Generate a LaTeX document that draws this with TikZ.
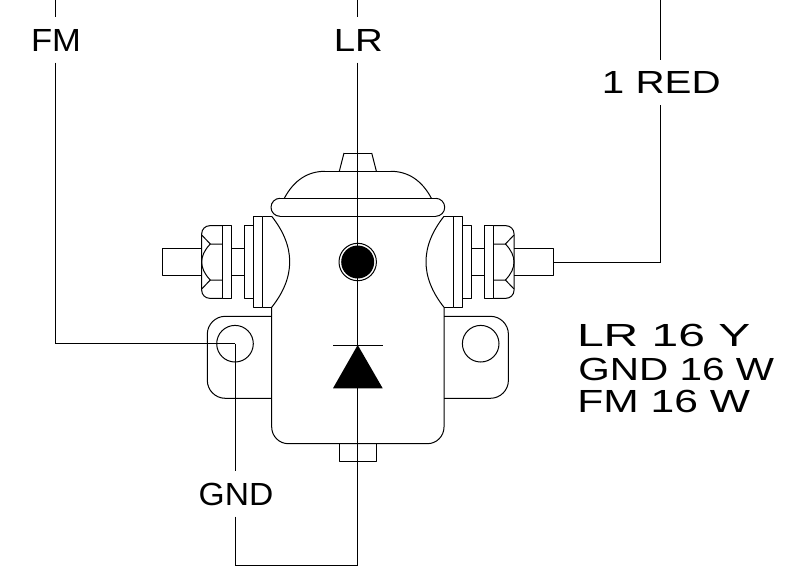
\documentclass[tikz,border=0pt]{standalone}
\usepackage{fontspec}
\setmainfont{Liberation Sans}
\tikzset{
	part/.style={line width=0.75pt, line join=round},
	wire/.style={line width=0.75pt, line join=miter},
	tag/.style={font=\fontsize{24}{28}\selectfont, inner sep=0pt, transform shape},
	walltag/.style={tag, minimum height=33.5pt}
}
\begin{document}
\begin{tikzpicture}[x=0.75pt,y=-0.75pt]
	\useasboundingbox (0,0) rectangle (785,571);
	%Ends and corners of the wires
	\coordinate (fmTop) at (55,0);
	\coordinate (lrTop) at (357.7,0);
	\coordinate (redTop) at (660.5,0);
	\coordinate (hole) at (235,343.7);
	\coordinate (studEnd) at (553,262);
	\coordinate (gndCorner) at (235,565);
	\coordinate (lrCorner) at (357.7,565);
	%Left and right hardware, the same drawing mirrored
	\foreach \flip/\shift in {1/0,-1/715.7} {
		\begin{scope}[xshift=\shift*0.75pt,xscale=\flip]
			%Stud and shaft
			\draw [part] (201.7,248.3) -- (162,248.3) -- (162,275.7) -- (201.7,275.7);
			\draw [part] (231,248.3) -- (244.3,248.3);
			\draw [part] (231,275.7) -- (244.3,275.7);
			%Nut
			\draw [part,rounded corners=6pt] (222,225.7) -- (201.7,225.7) -- (201.7,298.3) -- (222,298.3);
			\draw [part] (222,225.7) rectangle (231,298.3);
			\draw [part] (201.7,235) -- (210.3,244) -- (222,244);
			\draw [part] (201.7,289) -- (210.3,280) -- (222,280);
			\draw [part] (210.3,244) .. controls (204.5,250) and (201.7,256) .. (201.7,262) .. controls (201.7,268) and (204.5,274) .. (210.3,280);
			%Washer and flange
			\draw [part] (244.3,225.7) rectangle (253.3,298.3);
			\draw [part] (253.3,216.3) rectangle (262.7,307.3);
			\draw [part] (262.7,216.3) -- (271.7,216.3);
			\draw [part] (262.7,307.3) -- (271.7,307.3);
			\draw [part] (271.7,216.3) .. controls (295.7,246.6) and (295.7,277) .. (271.7,307.3);
			%Mounting ear with its hole
			\draw [part,rounded corners=13.5pt] (271.7,316.3) -- (207.3,316.3) -- (207.3,398.3) -- (271.7,398.3);
			\draw [part] (235,343.7) circle [radius=18.3];
			%Edge of the cap band and of the dome
			\draw [part] (280,198.3) arc [start angle=270,end angle=90,radius=9];
			\draw [part] (284.3,198.3) .. controls (294,180) and (308,171.3) .. (325,171.3);
			\draw [part] (339.3,171.3) -- (344,153);
			%Side of the body
			\draw [part,rounded corners=12.5pt] (271.7,307.3) -- (271.7,443.7) -- (357.85,443.7);
		\end{scope}
	}
	%Lines that cross the centre
	\draw [part] (280,198.3) -- (435.7,198.3);
	\draw [part] (280,216.3) -- (435.7,216.3);
	\draw [part] (325,171.3) -- (390.7,171.3);
	\draw [part] (344,153) -- (371.7,153);
	\draw [part] (339.7,443.7) rectangle (376,461.7);
	%Lamp
	\draw [part] (357.7,262) circle [radius=18.7];
	\fill (357.7,262) circle [radius=16.5];
	%Diode
	\draw [part] (333,345) -- (382.7,345);
	\fill (357.7,345) -- (382.7,388.3) -- (333,388.3) -- cycle;
	%Labels on the wires
	\node [walltag,xscale=1.08] (fm) at (56,40) {FM};
	\node [walltag,xscale=1.2] (lr) at (358.3,40) {LR};
	\node [walltag,xscale=1.26] (red) at (661.3,82.5) {1 RED};
	\node [walltag,xscale=1.05] (gnd) at (236,494) {GND};
	%The wires
	\draw [wire] (fmTop) -- (fmTop |- fm.north);
	\draw [wire] (fmTop |- fm.south) |- (hole);
	\draw [wire] (lrTop) -- (lrTop |- lr.north);
	\draw [wire] (lrTop |- lr.south) -- (lrCorner);
	\draw [wire] (redTop) -- (redTop |- red.north);
	\draw [wire] (redTop |- red.south) |- (studEnd);
	\draw [wire] (hole) -- (hole |- gnd.north);
	\draw [wire] (hole |- gnd.south) -- (gndCorner) -- (lrCorner);
	%Wire colours
	\node [tag,anchor=base west,xscale=1.5] (lrList) at (576.6,346.7) {LR 16 Y};
	\node [tag,anchor=base west,xscale=1.265] (gndList) at (578,380) {GND 16 W};
	\node [tag,anchor=base west,xscale=1.33] (fmList) at (577,412.5) {FM 16 W};
\end{tikzpicture}
\end{document}
